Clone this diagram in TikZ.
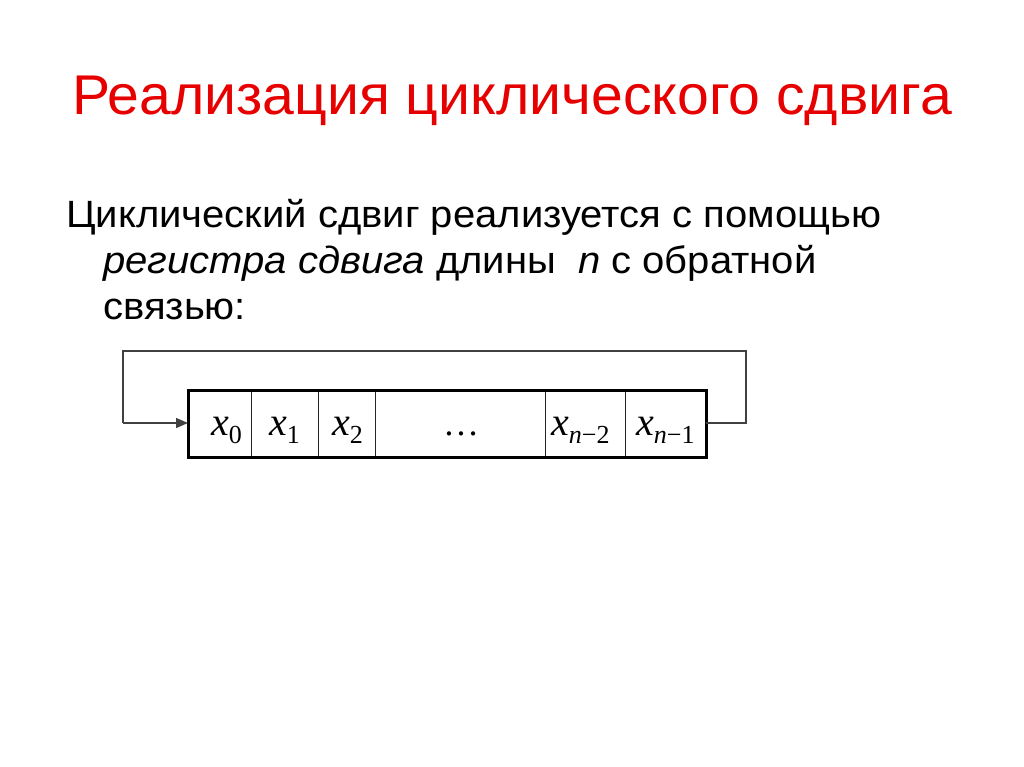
\documentclass[tikz,border=0pt]{standalone}
\usepackage{fontspec}
\usetikzlibrary{arrows.meta}
\setmainfont{Liberation Sans}
\newfontfamily\tms{Liberation Serif}
\newcommand{\xv}[1]{{\tms\itshape\fontsize{40}{40}\selectfont x}\raisebox{-8pt}{\tms\fontsize{26}{26}\selectfont #1}}
\definecolor{titlered}{RGB}{230,0,0}
\tikzset{
  lbl/.style={inner sep=0pt, anchor=base west},
  fb/.style={draw=black!75, line width=1.3pt},
  divline/.style={draw=black!85, line width=1pt},
  regbox/.style={draw=black, line width=3pt},
  bodytext/.style={inner sep=0pt, anchor=base west, font=\fontsize{38}{38}\selectfont}
}
\begin{document}
\begin{tikzpicture}[x=1pt,y=-1pt]
\useasboundingbox[fill=white] (0,0) rectangle (1024,767);
\node[inner sep=0pt, anchor=base, text=titlered, font=\fontsize{56}{56}\selectfont] (title) at (512,115) {\scalebox{1.02}[1]{Реализация циклического сдвига}};
\node[bodytext] (l1) at (66,227) {\scalebox{1.053}[1]{Циклический сдвиг реализуется с помощью}};
\node[bodytext] (l2) at (103,273) {\scalebox{1.053}[1]{\textit{регистра сдвига} длины \ \textit{n} с обратной}};
\node[bodytext] (l3) at (103,319) {\scalebox{1.053}[1]{связью:}};
% cells
\draw[divline] (251,390) -- (251,457);
\draw[divline] (318,390) -- (318,457);
\draw[divline] (375,390) -- (375,457);
\draw[divline] (545,390) -- (545,457);
\draw[divline] (625,390) -- (625,457);
\node[draw=none, minimum width=518pt, minimum height=67pt, inner sep=0pt, anchor=north west] (reg) at (188,390) {};
\draw[regbox] (reg.north west) rectangle (reg.south east);
\node[lbl] (x0) at (211,435) {\xv{0}};
\node[lbl] (x1) at (269,435) {\xv{1}};
\node[lbl] (x2) at (332,435) {\xv{2}};
\node[lbl, font=\tms\fontsize{36}{36}\selectfont] (dots) at (443,435) {…};
\node[lbl] (xn2) at (551,435) {\xv{{\itshape n}−2}};
\node[lbl] (xn1) at (636,435) {\xv{{\itshape n}−1}};
\coordinate (r1) at (746,423);
\coordinate (r2) at (746,351);
\coordinate (l1c) at (123,351);
\coordinate (l2c) at (123,423);
\draw[fb] (reg.east |- r1) -- (r1) -- (r2) -- (l1c) -- (l2c);
\draw[fb, -{Triangle[length=12pt,width=10pt]}] (l2c) -- (reg.west |- l2c);
\end{tikzpicture}
\end{document}
